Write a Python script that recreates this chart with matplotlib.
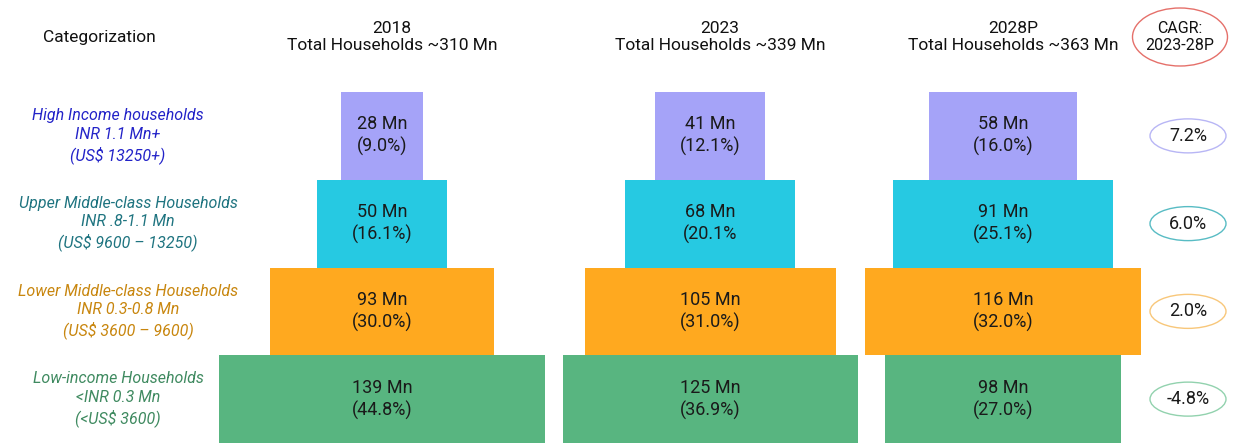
import matplotlib
matplotlib.use("Agg")
import matplotlib.pyplot as plt
from matplotlib.patches import Ellipse
import numpy as np

# ---------------- data ----------------
years = ["2018", "2023", "2028P"]
total_households = [310, 339, 363]
categories = ["High Income households", "Upper Middle-class Households",
              "Lower Middle-class Households", "Low-income Households"]
income_inr = ["INR 1.1 Mn+", "INR .8-1.1 Mn", "INR 0.3-0.8 Mn", "<INR 0.3 Mn"]
income_usd = ["(US$ 13250+)", "(US$ 9600 – 13250)", "(US$ 3600 – 9600)", "(<US$ 3600)"]
hh_2018 = [28, 50, 93, 139]
hh_2023 = [41, 68, 105, 125]
hh_2028 = [58, 91, 116, 98]
share_2018 = ["(9.0%)", "(16.1%)", "(30.0%)", "(44.8%)"]
share_2023 = ["(12.1%)", "(20.1%", "(31.0%)", "(36.9%)"]
share_2028 = ["(16.0%)", "(25.1%)", "(32.0%)", "(27.0%)"]
cagr = ["7.2%", "6.0%", "2.0%", "-4.8%"]

# ---------------- style ----------------
plt.rcParams["font.family"] = ["Liberation Sans Narrow", "Roboto", "DejaVu Sans"]
bar_colors = ["#A5A3F8", "#26C9E2", "#FFA91F", "#58B580"]
label_colors = ["#2323C8", "#1F7480", "#C8860E", "#3F8A60"]
oval_edges = ["#B8B6F5", "#58BCC4", "#F8C77A", "#92D2AE"]
year_centers = [382, 710, 1003]
px_per_mn = 2.2
min_width = 20

W, H = 1235, 443
fig = plt.figure(figsize=(W / 100, H / 100), dpi=100)

# bars axis: x in pixel-scale units, y in row units
ax = fig.add_axes([0, 0, 1, 1])
row_px = (443 - 92) / 4.0
ax.set_xlim(0, W)
ax.set_ylim(3.5, -0.5 - 92 / row_px)
ax.axis("off")

series = [hh_2018, hh_2023, hh_2028]
shares = [share_2018, share_2023, share_2028]
rows = np.arange(len(categories))
for yi, (vals, shr, cx) in enumerate(zip(series, shares, year_centers)):
    vals = np.array(vals, dtype=float)
    widths = min_width + px_per_mn * vals
    ax.barh(rows, widths, left=cx - widths / 2, height=1.0,
            color=bar_colors, edgecolor="none")
    for r, (v, s) in enumerate(zip(vals, shr)):
        ax.text(cx, r, f"{int(v)} Mn\n{s}", ha="center", va="center",
                fontsize=13, color="#1a1a1a", linespacing=1.25)

# overlay axis in pixel coords for headers and ovals
ov = fig.add_axes([0, 0, 1, 1])
ov.set_xlim(0, W)
ov.set_ylim(H, 0)
ov.axis("off")
ov.patch.set_alpha(0)

ov.text(43, 37, "Categorization", ha="left", va="center", fontsize=12.5, color="#111111")
for y, t, cx in zip(years, total_households, year_centers):
    ov.text(cx + 10, 37, f"{y}\nTotal Households ~{t} Mn", ha="center", va="center",
            fontsize=12.5, color="#111111", linespacing=1.15)

# category labels
cat_centers_x = [118, 128, 128, 118]
for r, (c, inr, usd, col, cx) in enumerate(zip(categories, income_inr, income_usd,
                                                  label_colors, cat_centers_x)):
    ax.text(cx, r, f"{c}\n{inr}\n{usd}", ha="center", va="center", fontsize=11.5,
            style="italic", color=col, linespacing=1.3, parse_math=False)

# CAGR header oval
ov.add_patch(Ellipse((1180, 37), 95, 58, facecolor="white", edgecolor="#E5706A", lw=1.0))
ov.text(1180, 37, "CAGR:\n2023-28P", ha="center", va="center", fontsize=11.5,
        color="#111111", linespacing=1.2)

# CAGR value ovals
for r, (val, ec) in enumerate(zip(cagr, oval_edges)):
    ax.add_patch(Ellipse((1188, r), 76, 34 / row_px, facecolor="white",
                         edgecolor=ec, lw=1.0))
    ax.text(1188, r, val, ha="center", va="center", fontsize=13, color="#1a1a1a")

fig.savefig("out.png", dpi=100)
